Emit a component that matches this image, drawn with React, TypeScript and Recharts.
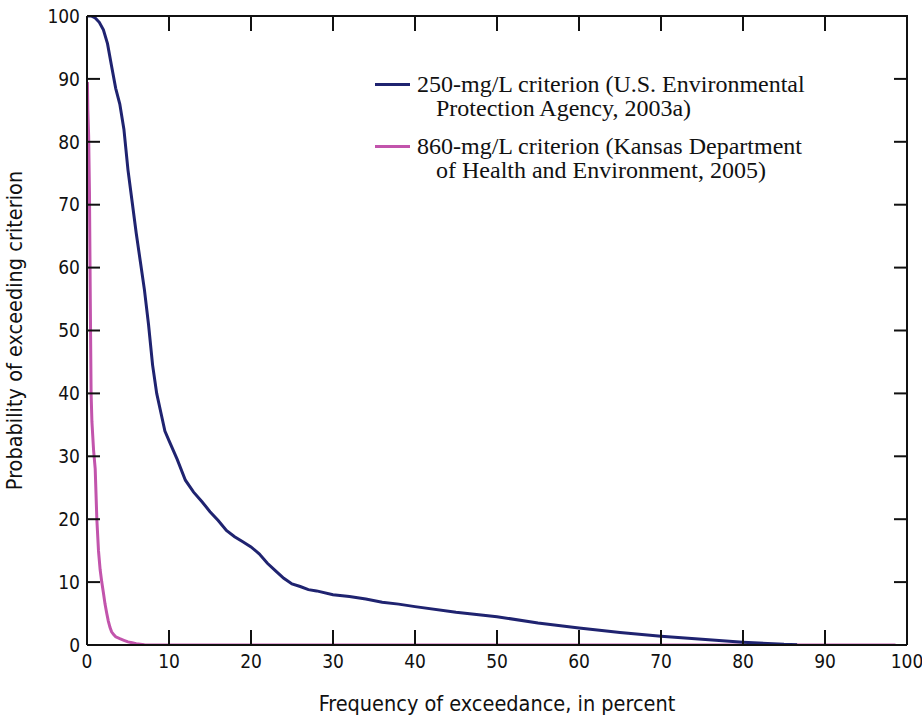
import { LineChart, Line, XAxis, YAxis } from "recharts";

const xTicks = [0, 10, 20, 30, 40, 50, 60, 70, 80, 90, 100];
const yTicks = [0, 10, 20, 30, 40, 50, 60, 70, 80, 90, 100];

// 250-mg/L criterion
const epaX = [0, 0.5, 1, 1.5, 2, 2.5, 3, 3.5, 4, 4.5, 5, 5.5, 6, 6.5, 7, 7.5, 8, 8.5, 9, 9.5, 10, 11, 12, 13, 14, 15, 16, 17, 18, 19, 20, 21, 22, 23, 24, 25, 26, 27, 28, 30, 32, 34, 36, 38, 40, 45, 50, 55, 60, 65, 70, 75, 80, 85, 86.6];
const epaY = [100, 100, 99.7, 99, 97.8, 95.6, 92, 88.5, 86, 82, 75.5, 70.5, 65.5, 61, 56.5, 51, 44.5, 40, 37, 34, 32.5, 29.5, 26.2, 24.3, 22.8, 21.2, 19.8, 18.2, 17.2, 16.4, 15.6, 14.5, 13, 11.8, 10.6, 9.7, 9.3, 8.8, 8.6, 8, 7.7, 7.3, 6.8, 6.5, 6.1, 5.2, 4.5, 3.5, 2.7, 2, 1.4, 0.9, 0.45, 0.1, 0.05];

// 860-mg/L criterion
const kdheX = [0.05, 0.1, 0.2, 0.3, 0.4, 0.5, 0.6, 0.8, 1, 1.2, 1.4, 1.6, 1.8, 2, 2.2, 2.4, 2.6, 2.8, 3, 3.25, 3.5, 4, 4.5, 5, 5.5, 6, 7, 7.5, 98.6];
const kdheY = [89.5, 85, 81, 72, 55, 40, 35.5, 31, 28, 20, 15, 12, 10, 8.3, 6.5, 5.1, 3.8, 2.8, 2.1, 1.65, 1.3, 1, 0.75, 0.5, 0.35, 0.2, 0.05, 0, 0];

const epaData = epaX.map((x, i) => ({ x, y: epaY[i] }));
const kdheData = kdheX.map((x, i) => ({ x, y: kdheY[i] }));

const BLUE = "#1f2370";
const PINK = "#c254ac";
const INK = "#111";
const axisFont = "'Liberation Sans Narrow', 'DejaVu Sans Condensed', sans-serif";

// plot box: x 87..907, y 16..645
const PLOT_W = 820;
const PLOT_H = 629;

const legendItems = [
  { color: BLUE, lines: ["250-mg/L criterion (U.S. Environmental", "Protection Agency, 2003a)"] },
  { color: PINK, lines: ["860-mg/L criterion (Kansas Department", "of Health and Environment, 2005)"] },
];

function ChartLegend() {
  return (
    <div
      style={{
        position: "absolute",
        left: 375,
        top: 72,
        fontFamily: "'Liberation Serif', serif",
        fontSize: 24,
        color: INK,
        lineHeight: "24px",
        whiteSpace: "nowrap",
      }}
    >
      {legendItems.map((item, i) => (
        <div key={i} style={{ display: "flex", alignItems: "flex-start", marginBottom: 14 }}>
          <div style={{ width: 35, height: 3, background: item.color, marginTop: 10.5, marginRight: 7 }} />
          <div>
            <div>{item.lines[0]}</div>
            <div style={{ paddingLeft: 19 }}>{item.lines[1]}</div>
          </div>
        </div>
      ))}
    </div>
  );
}

// bottom tick label + matching inward tick on the top edge
function XTick(props: any) {
  const { x, y, payload } = props;
  const axisY = y - 10;
  const topY = axisY - PLOT_H;
  return (
    <g>
      <line x1={x} x2={x} y1={topY} y2={topY + 15} stroke={INK} strokeWidth={2} />
      <text x={x} y={y} dy="0.71em" textAnchor="middle" fontSize={19} fill={INK} fontFamily={axisFont}>
        {payload.value}
      </text>
    </g>
  );
}

// left tick label + matching inward tick on the right edge
function YTick(props: any) {
  const { x, y, payload } = props;
  const axisX = x + 7;
  const rightX = axisX + PLOT_W;
  return (
    <g>
      <line x1={rightX - 13} x2={rightX} y1={y} y2={y} stroke={INK} strokeWidth={2} />
      <text x={x} y={y} dy="0.355em" textAnchor="end" fontSize={19} fill={INK} fontFamily={axisFont}>
        {payload.value}
      </text>
    </g>
  );
}

const titleStyle = { fontSize: 21.5, fill: INK, fontFamily: axisFont };

function App() {
  return (
    <div style={{ position: "absolute", left: 0, top: 0, width: 922, height: 719, background: "#fff" }}>
      <LineChart width={922} height={719} margin={{ top: 16, right: 15, left: 0, bottom: 0 }}>
        <XAxis
          type="number"
          dataKey="x"
          domain={[0, 100]}
          ticks={xTicks}
          allowDataOverflow
          stroke={INK}
          strokeWidth={2}
          tickSize={-15}
          tickMargin={25}
          tick={<XTick />}
          height={74}
          label={{ value: "Frequency of exceedance, in percent", position: "insideBottom", offset: 8, style: titleStyle }}
        />
        <YAxis
          type="number"
          domain={[0, 100]}
          ticks={yTicks}
          allowDataOverflow
          stroke={INK}
          strokeWidth={2}
          tickSize={-13}
          tickMargin={20}
          tick={<YTick />}
          width={87}
          label={{ value: "Probability of exceeding criterion", angle: -90, position: "insideLeft", offset: 14, style: { ...titleStyle, textAnchor: "middle" } }}
        />
        <Line
          data={kdheData}
          dataKey="y"
          type="linear"
          stroke={PINK}
          strokeWidth={3}
          dot={false}
          isAnimationActive={false}
        />
        <Line
          data={epaData}
          dataKey="y"
          type="linear"
          stroke={BLUE}
          strokeWidth={3}
          dot={false}
          isAnimationActive={false}
        />
      </LineChart>
      {/* top and right edges of the frame */}
      <div
        style={{
          position: "absolute",
          left: 88,
          top: 15,
          width: PLOT_W,
          height: PLOT_H + 1,
          boxSizing: "border-box",
          borderTop: `2px solid ${INK}`,
          borderRight: `2px solid ${INK}`,
          pointerEvents: "none",
        }}
      />
      <ChartLegend />
    </div>
  );
}

export default App;
